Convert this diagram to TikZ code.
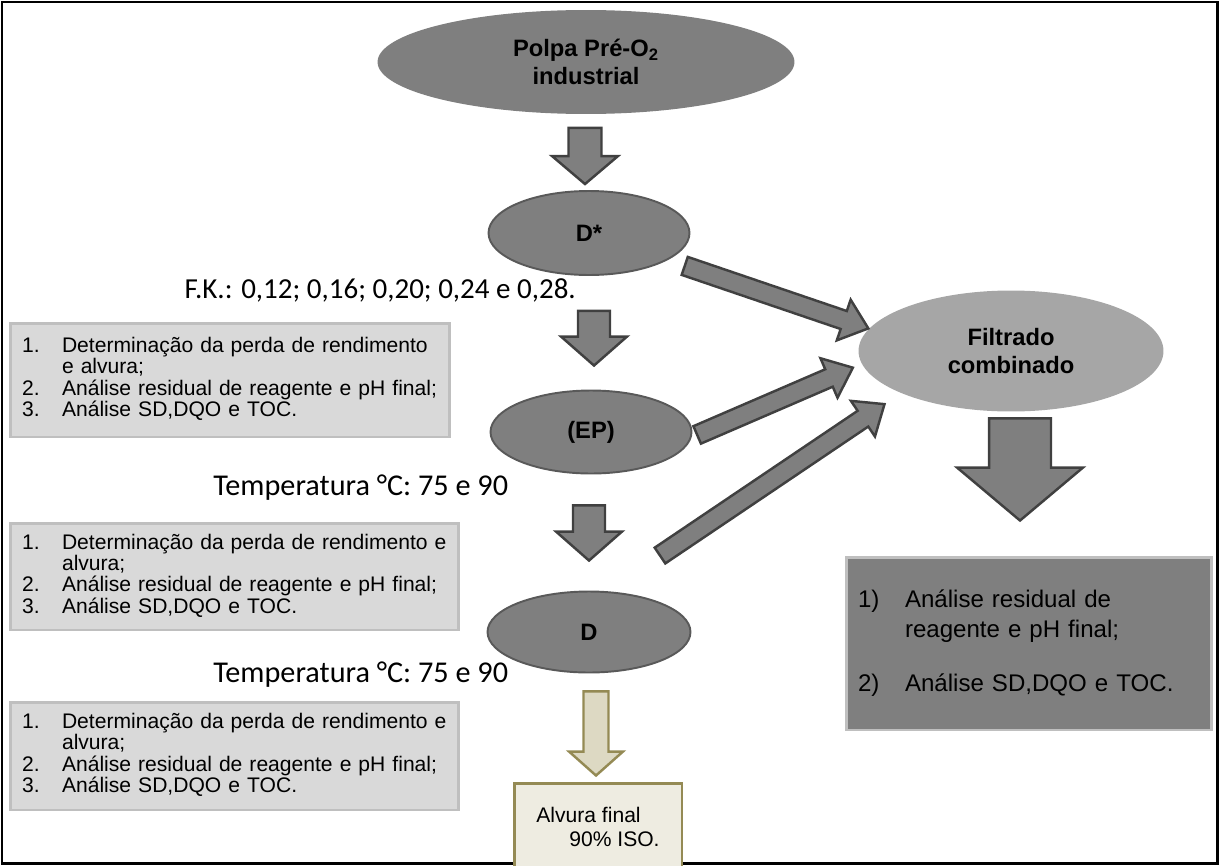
\documentclass[tikz,border=0pt]{standalone}
\usepackage{fontspec}
\setmainfont{Liberation Sans}
\newfontfamily\calibri{Carlito}
\usepackage{xcolor}
\usetikzlibrary{positioning, shapes, calc}

\definecolor{stagefill}{HTML}{7F7F7F}
\definecolor{stageline}{HTML}{595959}
\definecolor{arrowline}{HTML}{404040}
\definecolor{filtfill}{HTML}{A6A6A6}
\definecolor{notefill}{HTML}{D9D9D9}
\definecolor{noteline}{HTML}{BFBFBF}
\definecolor{khakifill}{HTML}{DDD9C3}
\definecolor{khakiline}{HTML}{948A54}
\definecolor{creamfill}{HTML}{EEECE1}

% fat arrow: [style]{from}{to}{half shaft}{half head}{head length}
\newcommand{\blockarrow}[6][fatarrow]{%
  \path (#2) coordinate (ba-s) (#3) coordinate (ba-t);
  \path ($(ba-t)!#6!(ba-s)$) coordinate (ba-h);
  \draw[#1] ($(ba-s)!#4!90:(ba-t)$) -- ($(ba-h)!#4!-90:(ba-s)$)
    -- ($(ba-h)!#5!-90:(ba-s)$) -- (ba-t) -- ($(ba-h)!#5!90:(ba-s)$)
    -- ($(ba-h)!#4!90:(ba-s)$) -- ($(ba-s)!#4!-90:(ba-t)$) -- cycle;}

\begin{document}
\begin{tikzpicture}[x=0.02cm, y=-0.02cm,
  stage/.style={ellipse, fill=stagefill, draw=stageline, line width=1.1pt, inner sep=0pt,
    align=center, font=\fontsize{13.5}{15.9}\selectfont\bfseries},
  note/.style={rectangle, fill=notefill, draw=noteline, line width=1.7pt, inner xsep=0.24cm,
    inner ysep=0pt, align=left, font=\fontsize{12}{11}\selectfont},
  cond/.style={inner sep=0pt, font=\calibri\fontsize{16.5}{18}\selectfont},
  fatarrow/.style={fill=stagefill, draw=arrowline, line width=1.4pt},
  palearrow/.style={fill=khakifill, draw=khakiline, line width=1.4pt}]
\useasboundingbox (0,0) rectangle (1219,865);
\draw[line width=1.7pt] (2,2) rectangle (1217,863);

\node[stage, draw=none, minimum width=8.34cm, minimum height=2.08cm] (polpa) at (586,62) {Polpa Pré-O\textsubscript{2}\\industrial};
\node[stage, minimum width=4.02cm, minimum height=1.68cm] (dstar) at (589,233) {D*};
\node[stage, minimum width=4.02cm, minimum height=1.66cm] (ep) at (591,432) {(EP)};
\node[stage, minimum width=4.06cm, minimum height=1.62cm] (dd) at (589,632) {D};
\node[stage, fill=filtfill, draw=none, minimum width=6.1cm, minimum height=2.42cm] (filt) at (1011,351) {Filtrado\\combinado};

\node[cond, anchor=east] (fk) at (576,290) {F.K.: 0,12; 0,16; 0,20; 0,24 e 0,28.};
\node[cond, anchor=west, font=\calibri\fontsize{17.2}{18}\selectfont] (temp1) at (213,488) {Temperatura °C: 75 e 90};
\node[cond, anchor=west, font=\calibri\fontsize{17.2}{18}\selectfont] (temp2) at (213,675) {Temperatura °C: 75 e 90};

\node[note, text width=8.32cm, minimum height=2.28cm] (box1) at (230,380) {\begin{tabular}{@{}p{0.8cm}@{}l@{}}
1. & Determinação da perda de rendimento\\ & e alvura;\\
2. & Análise residual de reagente e pH final;\\ 3. & Análise SD,DQO e TOC.\end{tabular}};
\node[note, text width=8.5cm, minimum height=2.14cm] (box2) at (234.5,576.5) {\begin{tabular}{@{}p{0.8cm}@{}l@{}}
1. & Determinação da perda de rendimento e\\ & alvura;\\
2. & Análise residual de reagente e pH final;\\ 3. & Análise SD,DQO e TOC.\end{tabular}};
\node[note, text width=8.5cm, minimum height=2.16cm] (box3) at (234.5,756) {\begin{tabular}{@{}p{0.8cm}@{}l@{}}
1. & Determinação da perda de rendimento e\\ & alvura;\\
2. & Análise residual de reagente e pH final;\\ 3. & Análise SD,DQO e TOC.\end{tabular}};

\node[note, fill=stagefill, text width=6.84cm, minimum height=3.46cm, font=\fontsize{13.7}{17}\selectfont] (rbox) at (1029,643.5) {\begin{tabular}{@{}p{0.94cm}@{}l@{}}
1) & Análise residual de\\ & reagente e pH final;\\[14pt]
2) & Análise SD,DQO e TOC.\end{tabular}};
\node[rectangle, fill=creamfill, draw=khakiline, line width=1.7pt, minimum width=3.36cm, minimum height=1.76cm,
  align=left, font=\fontsize{12}{13.6}\selectfont] (alvura) at (598,827) {Alvura final\\\hspace*{0.66cm}90\% ISO.};

% down arrows
\blockarrow{$(polpa.south)+(-1,13)$}{$(dstar.north)+(-4,-6)$}{0.33cm}{0.66cm}{0.56cm}
\blockarrow{$(dstar.south)+(5,35)$}{$(ep.north)+(3,-24)$}{0.32cm}{0.66cm}{0.58cm}
\blockarrow{$(ep.south)+(-2,31)$}{$(dd.north)+(0,-30)$}{0.32cm}{0.66cm}{0.58cm}
\blockarrow[palearrow]{$(dd.south)+(7,18)$}{$(alvura.north)+(-2,-6)$}{0.25cm}{0.54cm}{0.48cm}
\blockarrow{$(filt.south)+(9,6)$}{$(rbox.north)+(-9,-35)$}{0.62cm}{1.26cm}{1.06cm}
% into the filtrate
\coordinate (dfree) at ($(dd.north)+(71,-35)$);
\blockarrow{$(dstar.-19)!0.36cm!(filt.171)$}{filt.171}{0.19cm}{0.43cm}{0.52cm}
\blockarrow{$(ep.-3)!0.12cm!(filt.185)$}{$(filt.185)!0.18cm!(ep.-3)$}{0.19cm}{0.43cm}{0.52cm}
\blockarrow{dfree}{$(filt.201)!0.38cm!(dfree)$}{0.19cm}{0.43cm}{0.52cm}
\end{tikzpicture}
\end{document}
